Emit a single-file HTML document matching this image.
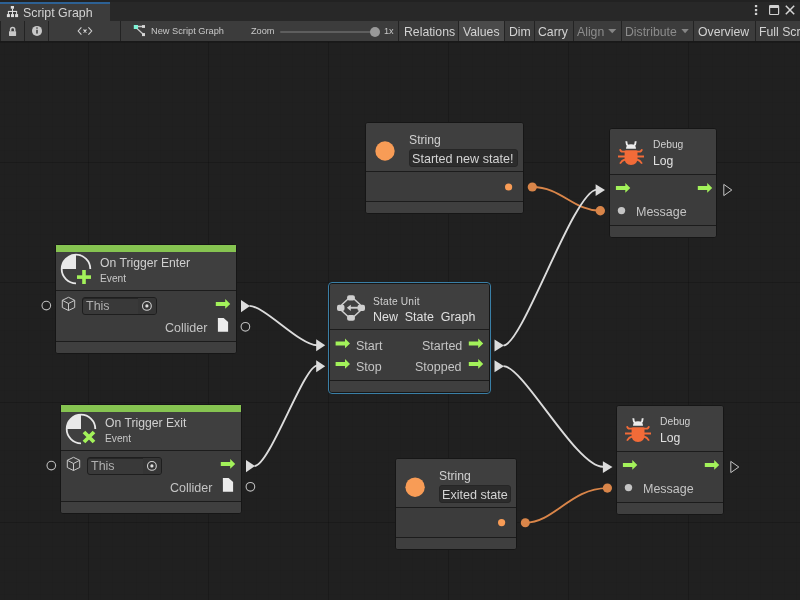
<!DOCTYPE html>
<html><head><meta charset="utf-8">
<style>
*{margin:0;padding:0;box-sizing:border-box}
html,body{width:800px;height:600px;overflow:hidden;background:#202020;font-family:"Liberation Sans",sans-serif}
.a{position:absolute}
.t{position:absolute;white-space:nowrap;line-height:1;color:#c8c8c8;will-change:transform}
#top{left:0;top:0;width:800px;height:21px;background:#282828}
#tab{left:0;top:2px;width:110px;height:19px;background:#3c3c3c;border-top:2px solid #2d6194}
#tb{left:0;top:21px;width:800px;height:20px;background:#3c3c3c}
#tbb{left:0;top:41px;width:800px;height:1px;background:#191919}
#graph{left:0;top:42px;width:800px;height:558px;overflow:hidden;background-color:#202020;
 background-image:
  linear-gradient(to right, rgba(0,0,0,0.16) 1px, transparent 1px),
  linear-gradient(to bottom, rgba(0,0,0,0.16) 1px, transparent 1px),
  linear-gradient(to right, rgba(0,0,0,0.035) 1px, transparent 1px),
  linear-gradient(to bottom, rgba(0,0,0,0.035) 1px, transparent 1px);
 background-size:120px 120px,120px 120px,12px 12px,12px 12px;
 background-position:88px 120px,88px 120px,4px 0px,4px 0px}
.vd{position:absolute;top:21px;width:1px;height:20px;background:#232323}
.btn{position:absolute;top:21px;height:20px;background:#3c3c3c}
.node{position:absolute;background:#3d3d3d;border-radius:3px;overflow:hidden}
svg{position:absolute;left:0;top:0}
</style></head><body>
<div id="top" class="a"></div>
<div class="a" style="left:0;top:0;width:800px;height:2px;background:#222"></div>
<div id="tab" class="a"></div>
<div id="tb" class="a"></div>
<div id="tbb" class="a"></div>
<div id="graph" class="a"></div>
<div class="t" style="left:22.90px;top:6.50px;font-size:12.4px;color:#d2d2d2;">Script Graph</div>

<div class="vd" style="left:0px"></div>
<div class="vd" style="left:24px"></div>
<div class="vd" style="left:48px"></div>
<div class="vd" style="left:120px"></div>
<div class="t" style="left:150.6px;top:27px;font-size:9.25px;color:#c8c8c8">New Script Graph</div>
<div class="t" style="left:251px;top:26.8px;font-size:9.2px;color:#c8c8c8">Zoom</div>
<div class="a" style="left:280px;top:31px;width:94px;height:2px;background:#5e5e5e;border-radius:1px"></div>
<div class="a" style="left:370px;top:27px;width:10px;height:10px;background:#999;border-radius:50%"></div>
<div class="t" style="left:384px;top:26.8px;font-size:9.2px;color:#c8c8c8">1x</div>
<div class="vd" style="left:398px"></div>
<div class="t" style="left:403.8px;top:25.5px;font-size:12.25px;color:#d2d2d2">Relations</div>
<div class="vd" style="left:458px"></div>
<div class="btn" style="left:459px;width:45px;background:#4a4a4a"></div>
<div class="t" style="left:463px;top:25.5px;font-size:12.25px;color:#d2d2d2">Values</div>
<div class="vd" style="left:504px"></div>
<div class="t" style="left:509px;top:25.5px;font-size:12.25px;color:#d2d2d2">Dim</div>
<div class="vd" style="left:534px"></div>
<div class="t" style="left:538px;top:25.5px;font-size:12.25px;color:#d2d2d2">Carry</div>
<div class="vd" style="left:573px"></div>
<div class="t" style="left:577px;top:25.5px;font-size:12.25px;color:#8c8c8c">Align</div>
<div class="vd" style="left:621px"></div>
<div class="t" style="left:625px;top:25.5px;font-size:12.25px;color:#8c8c8c">Distribute</div>
<div class="vd" style="left:693px"></div>
<div class="t" style="left:698px;top:25.5px;font-size:12.25px;color:#d2d2d2">Overview</div>
<div class="vd" style="left:755px"></div>
<div class="t" style="left:759px;top:25.5px;font-size:12.25px;color:#d2d2d2">Full Screen</div>
<svg width="800" height="42" viewBox="0 0 800 42" style="z-index:2">
<g fill="#dedede">
<rect x="10.8" y="6" width="3.2" height="2.7"/>
<rect x="12" y="8.5" width="1" height="3"/>
<rect x="7.9" y="10.9" width="9.2" height="1.1"/>
<rect x="7.9" y="11.5" width="1" height="3"/><rect x="12" y="11.5" width="1" height="3"/><rect x="16.1" y="11.5" width="1" height="3"/>
<rect x="6.9" y="14.1" width="3" height="3"/><rect x="11" y="14.1" width="3" height="3"/><rect x="15.1" y="14.1" width="3" height="3"/>
</g>
<g fill="#c8c8c8">
<rect x="9" y="31.2" width="7.1" height="4.8" rx="0.4"/>
</g>
<path d="M10.6,31.5 V29.6 A2,2 0 0 1 14.7,29.6 V31.5" fill="none" stroke="#c8c8c8" stroke-width="1.5"/>
<circle cx="37" cy="30.9" r="5" fill="#c8c8c8"/>
<rect x="36.3" y="27.4" width="1.4" height="1.3" fill="#333"/>
<rect x="36.3" y="29.8" width="1.4" height="3.8" fill="#333"/>
<g fill="none" stroke="#d0d0d0" stroke-width="1.1">
<path d="M81.4,27.4 L78.2,31 L81.4,34.6 M88.4,27.4 L91.7,31 L88.4,34.6"/>
<path d="M83.5,29.5 L86.5,32.5 M86.5,29.5 L83.5,32.5"/>
</g>
<rect x="84.2" y="30.2" width="1.6" height="1.6" fill="#d8d8d8"/>
<path d="M137,26.5 H142.5 M137,28.5 L143,34" stroke="#c8c8c8" stroke-width="1.3" fill="none"/>
<rect x="133.8" y="25" width="4.2" height="4" fill="#7ff3d6"/>
<rect x="142" y="25.1" width="3" height="2.8" fill="#d6d6d6"/>
<rect x="142" y="33.1" width="3" height="3" fill="#d6d6d6"/>
<path d="M608.2,29 H616.3 L612.25,33.2 Z" fill="#858585"/>
<path d="M681.4,29 H688.8 L685.1,33.2 Z" fill="#858585"/>
<g fill="#d0d0d0">
<rect x="754.9" y="5" width="2.3" height="2.2"/><rect x="754.9" y="9" width="2.3" height="2.2"/><rect x="754.9" y="12.8" width="2.3" height="2.2"/>
</g>
<rect x="769.6" y="5.6" width="9" height="8.9" rx="0.8" fill="none" stroke="#d0d0d0" stroke-width="1.2"/>
<rect x="769.6" y="5.6" width="9" height="2.4" fill="#d0d0d0"/>
<path d="M785.8,5.8 L794.2,14.2 M794.2,5.8 L785.8,14.2" stroke="#d6d6d6" stroke-width="1.5"/>
</svg>
<div class="node" style="left:55px;top:244px;width:182px;height:110px;border:1px solid #161616;border-radius:3px;background:#3c3c3c"><div class="a" style="left:0;top:0;width:100%;height:45px;background:#3f3f3f"></div><div class="a" style="left:0;top:45px;width:100%;height:1px;background:#1c1c1c"></div><div class="a" style="left:0;top:96px;width:100%;height:1px;background:#1c1c1c"></div><div class="a" style="left:0;top:97px;width:100%;height:11px;background:#3f3f3f"></div></div>
<div class="a" style="left:56px;top:245px;width:180px;height:7px;background:#86c451;"></div>
<div class="t" style="left:99.50px;top:256.67px;font-size:12.2px;color:#d0d0d0;">On Trigger Enter</div>
<div class="t" style="left:99.50px;top:274.07px;font-size:10.2px;color:#c8c8c8;">Event</div>
<div class="a" style="left:82px;top:297px;width:75px;height:18px;background:#393939;border:1px solid #1e1e1e;border-radius:3px;box-shadow:inset 0 1px 0 #262626;overflow:hidden"><div class="a" style="left:55px;top:0;width:20px;height:16px;background:#353535"></div></div>
<div class="t" style="left:85.50px;top:300.42px;font-size:12.5px;color:#b0b0b0;">This</div>
<div class="t" style="right:592.30px;top:321.62px;font-size:12.5px;color:#c4c4c4;">Collider</div>
<div class="node" style="left:60px;top:404px;width:182px;height:110px;border:1px solid #161616;border-radius:3px;background:#3c3c3c"><div class="a" style="left:0;top:0;width:100%;height:45px;background:#3f3f3f"></div><div class="a" style="left:0;top:45px;width:100%;height:1px;background:#1c1c1c"></div><div class="a" style="left:0;top:96px;width:100%;height:1px;background:#1c1c1c"></div><div class="a" style="left:0;top:97px;width:100%;height:11px;background:#3f3f3f"></div></div>
<div class="a" style="left:61px;top:405px;width:180px;height:7px;background:#86c451;"></div>
<div class="t" style="left:104.50px;top:416.67px;font-size:12.2px;color:#d0d0d0;">On Trigger Exit</div>
<div class="t" style="left:104.50px;top:434.07px;font-size:10.2px;color:#c8c8c8;">Event</div>
<div class="a" style="left:87px;top:457px;width:75px;height:18px;background:#393939;border:1px solid #1e1e1e;border-radius:3px;box-shadow:inset 0 1px 0 #262626;overflow:hidden"><div class="a" style="left:55px;top:0;width:20px;height:16px;background:#353535"></div></div>
<div class="t" style="left:90.50px;top:460.42px;font-size:12.5px;color:#b0b0b0;">This</div>
<div class="t" style="right:587.30px;top:481.62px;font-size:12.5px;color:#c4c4c4;">Collider</div>
<div class="node" style="left:365px;top:122px;width:159px;height:92px;border:1px solid #161616;border-radius:3px;background:#3c3c3c"><div class="a" style="left:0;top:0;width:100%;height:48px;background:#3f3f3f"></div><div class="a" style="left:0;top:48px;width:100%;height:1px;background:#1c1c1c"></div><div class="a" style="left:0;top:78px;width:100%;height:1px;background:#1c1c1c"></div><div class="a" style="left:0;top:79px;width:100%;height:11px;background:#3f3f3f"></div></div>
<div class="t" style="left:408.90px;top:133.97px;font-size:12.2px;color:#d0d0d0;">String</div>
<div class="a" style="left:409px;top:149.2px;width:108.60000000000002px;height:17.600000000000023px;background:#2c2c2c;border:1px solid #262626;border-radius:3px"></div>
<div class="t" style="left:412.20px;top:152.73px;font-size:12.6px;color:#d4d4d4;">Started new state!</div>
<div class="node" style="left:395px;top:458px;width:122px;height:92px;border:1px solid #161616;border-radius:3px;background:#3c3c3c"><div class="a" style="left:0;top:0;width:100%;height:48px;background:#3f3f3f"></div><div class="a" style="left:0;top:48px;width:100%;height:1px;background:#1c1c1c"></div><div class="a" style="left:0;top:78px;width:100%;height:1px;background:#1c1c1c"></div><div class="a" style="left:0;top:79px;width:100%;height:11px;background:#3f3f3f"></div></div>
<div class="t" style="left:439.40px;top:470.17px;font-size:12.2px;color:#d0d0d0;">String</div>
<div class="a" style="left:439px;top:485px;width:72px;height:17.5px;background:#2c2c2c;border:1px solid #262626;border-radius:3px"></div>
<div class="t" style="left:441.50px;top:488.83px;font-size:12.6px;color:#d4d4d4;">Exited state</div>
<div class="node" style="left:609px;top:128px;width:108px;height:110px;border:1px solid #161616;border-radius:3px;background:#3c3c3c"><div class="a" style="left:0;top:0;width:100%;height:45px;background:#3f3f3f"></div><div class="a" style="left:0;top:45px;width:100%;height:1px;background:#1c1c1c"></div><div class="a" style="left:0;top:96px;width:100%;height:1px;background:#1c1c1c"></div><div class="a" style="left:0;top:97px;width:100%;height:11px;background:#3f3f3f"></div></div>
<div class="t" style="left:653.00px;top:139.88px;font-size:10.3px;color:#d0d0d0;">Debug</div>
<div class="t" style="left:653.00px;top:155.42px;font-size:12.2px;color:#e0e0e0;">Log</div>
<div class="t" style="left:636.30px;top:205.72px;font-size:12.5px;color:#c4c4c4;">Message</div>
<div class="node" style="left:616px;top:405px;width:108px;height:110px;border:1px solid #161616;border-radius:3px;background:#3c3c3c"><div class="a" style="left:0;top:0;width:100%;height:45px;background:#3f3f3f"></div><div class="a" style="left:0;top:45px;width:100%;height:1px;background:#1c1c1c"></div><div class="a" style="left:0;top:96px;width:100%;height:1px;background:#1c1c1c"></div><div class="a" style="left:0;top:97px;width:100%;height:11px;background:#3f3f3f"></div></div>
<div class="t" style="left:660.00px;top:416.88px;font-size:10.3px;color:#d0d0d0;">Debug</div>
<div class="t" style="left:660.00px;top:432.42px;font-size:12.2px;color:#e0e0e0;">Log</div>
<div class="t" style="left:643.30px;top:482.72px;font-size:12.5px;color:#c4c4c4;">Message</div>
<div class="a" style="left:328px;top:282px;width:163px;height:112px;border:1px solid #3a7fa6;border-radius:4px;background:#161616"></div>
<div class="node" style="left:330px;top:284px;width:159px;height:108px;border:0px solid #161616;border-radius:2px;background:#3c3c3c"><div class="a" style="left:0;top:0;width:100%;height:45px;background:#3f3f3f"></div><div class="a" style="left:0;top:45px;width:100%;height:1px;background:#1c1c1c"></div><div class="a" style="left:0;top:96px;width:100%;height:1px;background:#1c1c1c"></div><div class="a" style="left:0;top:97px;width:100%;height:11px;background:#3f3f3f"></div></div>
<div class="t" style="left:373.40px;top:296.97px;font-size:10.2px;color:#d0d0d0;letter-spacing:0.2px">State Unit</div>
<div class="t" style="left:373.40px;top:310.66px;font-size:12.45px;color:#e0e0e0;">New&nbsp; State&nbsp; Graph</div>
<div class="t" style="left:355.90px;top:340.42px;font-size:12.5px;color:#c4c4c4;">Start</div>
<div class="t" style="left:355.90px;top:361.42px;font-size:12.5px;color:#c4c4c4;">Stop</div>
<div class="t" style="right:338.00px;top:340.42px;font-size:12.5px;color:#c4c4c4;">Started</div>
<div class="t" style="right:338.80px;top:361.42px;font-size:12.5px;color:#c4c4c4;">Stopped</div>
<svg width="800" height="600" viewBox="0 0 800 600"><path d="M76,269 L61.7,269 A14.3,14.3 0 0 1 76,254.7 Z" fill="#e8e8e8"/><path d="M90.3,269 A14.3,14.3 0 0 0 76,254.7 A14.3,14.3 0 0 0 61.7,269 A14.3,14.3 0 0 0 76,283.3" fill="none" stroke="#e8e8e8" stroke-width="1.8"/><rect x="77" y="275.3" width="14" height="3.6" fill="#a3f25a"/><rect x="82.2" y="270" width="3.6" height="14" fill="#a3f25a"/><g fill="none" stroke="#c8c8c8" stroke-width="1" stroke-linejoin="round"><path d="M68.5,297.3 L74.7,300.3 L74.7,307.5 L68.5,310.5 L62.3,307.5 L62.3,300.3 Z M62.3,300.3 L68.5,303.5 L74.7,300.3 M68.5,303.5 L68.5,310.5"/></g><circle cx="146.9" cy="305.9" r="4.4" fill="none" stroke="#d0d0d0" stroke-width="1.1"/><circle cx="146.9" cy="305.9" r="1.6" fill="#e0e0e0"/><path d="M215.8,301.9 H225.20000000000002 V299 L230.20000000000002,303.9 L225.20000000000002,308.8 V305.9 H215.8 Z" fill="#a3f25a"/><path d="M217.9,318 H223.6 L228.1,322 V331.8 H217.9 Z" fill="#ececec"/><circle cx="46.3" cy="305.6" r="4.3" fill="none" stroke="#bdbdbd" stroke-width="1.1"/><path d="M241,300 L250,306.1 L241,312.2 Z" fill="#dcdcdc"/><circle cx="245.4" cy="326.8" r="4.3" fill="none" stroke="#bdbdbd" stroke-width="1.1"/><path d="M81,429 L66.7,429 A14.3,14.3 0 0 1 81,414.7 Z" fill="#e8e8e8"/><path d="M95.3,429 A14.3,14.3 0 0 0 81,414.7 A14.3,14.3 0 0 0 66.7,429 A14.3,14.3 0 0 0 81,443.3" fill="none" stroke="#e8e8e8" stroke-width="1.8"/><path d="M84,432 L94,442 M94,432 L84,442" stroke="#a3f25a" stroke-width="3.8"/><g fill="none" stroke="#c8c8c8" stroke-width="1" stroke-linejoin="round"><path d="M73.5,457.3 L79.7,460.3 L79.7,467.5 L73.5,470.5 L67.3,467.5 L67.3,460.3 Z M67.3,460.3 L73.5,463.5 L79.7,460.3 M73.5,463.5 L73.5,470.5"/></g><circle cx="151.9" cy="465.9" r="4.4" fill="none" stroke="#d0d0d0" stroke-width="1.1"/><circle cx="151.9" cy="465.9" r="1.6" fill="#e0e0e0"/><path d="M220.8,461.9 H230.20000000000002 V459 L235.20000000000002,463.9 L230.20000000000002,468.8 V465.9 H220.8 Z" fill="#a3f25a"/><path d="M222.9,478 H228.6 L233.1,482 V491.8 H222.9 Z" fill="#ececec"/><circle cx="51.3" cy="465.6" r="4.3" fill="none" stroke="#bdbdbd" stroke-width="1.1"/><path d="M246,460 L255,466.1 L246,472.2 Z" fill="#dcdcdc"/><circle cx="250.4" cy="486.8" r="4.3" fill="none" stroke="#bdbdbd" stroke-width="1.1"/><circle cx="385" cy="151" r="9.7" fill="#f89c56"/><circle cx="508.6" cy="187" r="3.6" fill="#f89c56"/><circle cx="415.1" cy="487.2" r="9.7" fill="#f89c56"/><circle cx="501.6" cy="522.6" r="3.6" fill="#f89c56"/><g transform="translate(0,0.0)"><path d="M624.6,151 Q624.6,150.3 626,150.3 H636.2 Q637.5,150.3 637.5,151 V158 Q637.5,165 631,165 Q624.6,165 624.6,158 Z" fill="#f26b38"/><g stroke="#f26b38" stroke-width="1.8" fill="none" stroke-linecap="butt"><path d="M618,156.5 H625 M637,156.5 H644"/><path d="M625,151.6 H622.5 Q620.5,151.6 620,149.2 M637,151.6 H639.5 Q641.5,151.6 642,149.2"/><path d="M625,159.5 Q622,160.2 620,163.6 M637,159.5 Q640,160.2 642,163.6"/></g><path d="M626,148.8 Q626,144.2 631,144.2 Q636,144.2 636,148.8 Z" fill="#ececec"/><path d="M626.3,141.2 Q626.3,144.5 628.3,146 M635.7,141.2 Q635.7,144.5 633.7,146" stroke="#ececec" stroke-width="1.9" fill="none"/></g><path d="M615.9,185.9 H625.3 V183 L630.3,187.9 L625.3,192.8 V189.9 H615.9 Z" fill="#a3f25a"/><path d="M697.8,185.9 H707.1999999999999 V183 L712.1999999999999,187.9 L707.1999999999999,192.8 V189.9 H697.8 Z" fill="#a3f25a"/><path d="M723.8,184.4 L731.8,190.0 L723.8,195.6 Z" fill="none" stroke="#c4c4c4" stroke-width="1.0" stroke-linejoin="miter"/><circle cx="621.5" cy="210.6" r="3.7" fill="#c4c4c4"/><g transform="translate(7,277.0)"><path d="M624.6,151 Q624.6,150.3 626,150.3 H636.2 Q637.5,150.3 637.5,151 V158 Q637.5,165 631,165 Q624.6,165 624.6,158 Z" fill="#f26b38"/><g stroke="#f26b38" stroke-width="1.8" fill="none" stroke-linecap="butt"><path d="M618,156.5 H625 M637,156.5 H644"/><path d="M625,151.6 H622.5 Q620.5,151.6 620,149.2 M637,151.6 H639.5 Q641.5,151.6 642,149.2"/><path d="M625,159.5 Q622,160.2 620,163.6 M637,159.5 Q640,160.2 642,163.6"/></g><path d="M626,148.8 Q626,144.2 631,144.2 Q636,144.2 636,148.8 Z" fill="#ececec"/><path d="M626.3,141.2 Q626.3,144.5 628.3,146 M635.7,141.2 Q635.7,144.5 633.7,146" stroke="#ececec" stroke-width="1.9" fill="none"/></g><path d="M622.9,462.9 H632.3 V460 L637.3,464.9 L632.3,469.8 V466.9 H622.9 Z" fill="#a3f25a"/><path d="M704.8,462.9 H714.1999999999999 V460 L719.1999999999999,464.9 L714.1999999999999,469.8 V466.9 H704.8 Z" fill="#a3f25a"/><path d="M730.8,461.4 L738.8,467.0 L730.8,472.59999999999997 Z" fill="none" stroke="#c4c4c4" stroke-width="1.0" stroke-linejoin="miter"/><circle cx="628.5" cy="487.6" r="3.7" fill="#c4c4c4"/><g stroke="#cfcfcf" stroke-width="1.5" fill="none"><path d="M341.5,305 L348,299 M354,299 L360.5,305 M341.5,310.5 L348,316.5 M354,316.5 L360.5,310.5"/></g><g fill="#cfcfcf"><rect x="347.1" y="295.2" width="7.8" height="5.4" rx="2"/><rect x="347.1" y="315" width="7.8" height="5.8" rx="2"/><rect x="337" y="304.8" width="7.5" height="6.1" rx="2"/><rect x="357.5" y="304.8" width="7.5" height="6.1" rx="2"/><rect x="350" y="306.8" width="8" height="1.9"/><path d="M346.8,307.8 L350.8,304.8 V310.9 Z"/></g><path d="M335.6,341.4 H345.0 V338.5 L350.0,343.4 L345.0,348.3 V345.4 H335.6 Z" fill="#a3f25a"/><path d="M335.6,361.9 H345.0 V359 L350.0,363.9 L345.0,368.8 V365.9 H335.6 Z" fill="#a3f25a"/><path d="M468.8,341.4 H478.2 V338.5 L483.2,343.4 L478.2,348.3 V345.4 H468.8 Z" fill="#a3f25a"/><path d="M468.8,361.9 H478.2 V359 L483.2,363.9 L478.2,368.8 V365.9 H468.8 Z" fill="#a3f25a"/><path d="M316.2,339.2 L325.2,345.2 L316.2,351.2 Z" fill="#dcdcdc"/><path d="M316.2,360.2 L325.2,366.2 L316.2,372.2 Z" fill="#dcdcdc"/><path d="M494.5,339.5 L504.0,345.5 L494.5,351.5 Z" fill="#dcdcdc"/><path d="M494.5,360.2 L504.0,366.2 L494.5,372.2 Z" fill="#dcdcdc"/><path d="M532.3,187 C561.3,187 573.3,210.8 600.3,210.8" fill="none" stroke="#d98549" stroke-width="1.9"/><path d="M525.3,522.7 C554.3,522.7 570.4,488.1 607.4,488.1" fill="none" stroke="#d98549" stroke-width="1.9"/><circle cx="532.3" cy="187" r="4.6" fill="#d98549"/><circle cx="600.3" cy="210.8" r="4.7" fill="#d98549"/><circle cx="525.3" cy="522.7" r="4.5" fill="#d98549"/><circle cx="607.4" cy="488.1" r="4.6" fill="#d98549"/><path d="M249.5,305.9 C264.5,305.9 300,345.3 317,345.3" fill="none" stroke="#dcdcdc" stroke-width="1.9"/><path d="M254.5,466 C269.5,466 304,365.6 317,365.6" fill="none" stroke="#dcdcdc" stroke-width="1.9"/><path d="M503.5,345.4 C522.5,345.4 574,189.6 597,189.6" fill="none" stroke="#dcdcdc" stroke-width="1.9"/><path d="M503.5,366.1 C523.5,366.1 576,466.8 603,466.8" fill="none" stroke="#dcdcdc" stroke-width="1.9"/><path d="M595.6,184.2 L605.0,190.04999999999998 L595.6,195.89999999999998 Z" fill="#dcdcdc"/><path d="M602.9,461.2 L612.5,467.09999999999997 L602.9,473.0 Z" fill="#dcdcdc"/></svg>
</body></html>
